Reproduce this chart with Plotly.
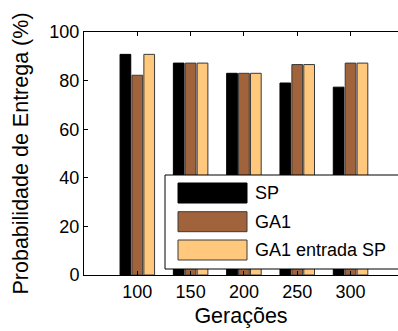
import plotly.graph_objects as go

generations = [100, 150, 200, 250, 300]
sp = [90.8, 87.2, 83.0, 79.0, 77.3]
ga1 = [82.2, 87.2, 83.0, 86.6, 87.2]
ga1_sp = [90.8, 87.2, 83.0, 86.6, 87.2]

series_names = ["SP", "GA1", "GA1 entrada SP"]
series_values = [sp, ga1, ga1_sp]
colors = ["#000000", "#A0633C", "#FFC87C"]
outlines = ["#000000", "#3a3a3a", "#3a3a3a"]

W, H = 398, 331
L, R, T, B = 84, 0, 32, 56
FONT = "Arial"

fig = go.Figure()
for name, vals, c, oc in zip(series_names, series_values, colors, outlines):
    fig.add_trace(go.Bar(x=generations, y=vals, name=name, marker=dict(color=c, line=dict(color=oc, width=1)),
                         showlegend=False))

fig.update_layout(
    width=W, height=H,
    margin=dict(l=L, r=R, t=T, b=B, pad=0),
    paper_bgcolor="white", plot_bgcolor="white",
    barmode="group", bargap=0.33, bargroupgap=0.1,
    font=dict(family=FONT, size=18, color="black"),
)
fig.update_xaxes(range=[50, 344.5], tickvals=generations, ticktext=[str(g) for g in generations],
                 ticks="inside", ticklen=4, tickcolor="black", showline=True, linecolor="black", linewidth=1,
                 mirror="ticks", showgrid=False, zeroline=False,
                 title=dict(text="Gerações", font=dict(size=21.5, family=FONT), standoff=7),
                 tickfont=dict(size=18, family=FONT))
fig.update_yaxes(range=[0, 100], tickvals=[0, 20, 40, 60, 80, 100], ticks="inside", ticklen=4, tickcolor="black",
                 showline=True, linecolor="black", linewidth=1, mirror=False, showgrid=False, zeroline=False,
                 title=dict(text="Probabilidade de Entrega (%)", font=dict(size=21.5, family=FONT), standoff=14),
                 tickfont=dict(size=18, family=FONT))

pw = W - L - R
ph = H - T - B
def px(x):
    return (x - L) / pw
def py(y):
    return (H - B - y) / ph

shapes = [dict(type="rect", xref="paper", yref="paper", x0=px(165), x1=px(420), y0=py(269), y1=py(175),
               fillcolor="white", line=dict(color="black", width=1), layer="above")]
rows = [193, 221.7, 250]
annotations = []
for name, c, oc, cy in zip(series_names, colors, outlines, rows):
    shapes.append(dict(type="rect", xref="paper", yref="paper", x0=px(178), x1=px(247), y0=py(cy + 10), y1=py(cy - 10),
                       fillcolor=c, line=dict(color=oc, width=1), layer="above"))
    annotations.append(dict(text=name, xref="paper", yref="paper", x=px(253), y=py(cy), xanchor="left", yanchor="middle",
                            showarrow=False, font=dict(size=18, family=FONT, color="black")))
fig.update_layout(shapes=shapes, annotations=annotations)

fig.write_html("out.html")
